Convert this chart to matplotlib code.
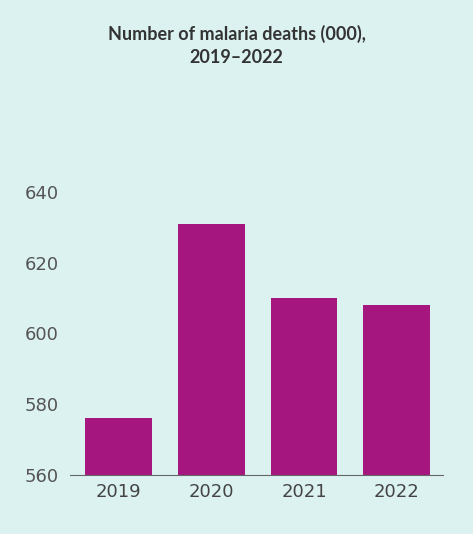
import matplotlib
matplotlib.use("Agg")
import matplotlib.pyplot as plt

years = ["2019", "2020", "2021", "2022"]
deaths = [576, 631, 610, 608]
yticks = [560, 580, 600, 620, 640]

bg = "#dbf2f1"
fig = plt.figure(figsize=(4.73, 5.34), dpi=100, facecolor=bg)
ax = fig.add_axes([0.148, 0.1105, 0.789, 0.530], facecolor=bg)
ax.bar(range(len(years)), deaths, width=0.72, color="#a6167f", zorder=2)
ax.set_xlim(-0.52, 3.5)
ax.set_ylim(560, 640)
ax.set_yticks(yticks)
ax.set_xticks(range(len(years)))
ax.set_xticklabels(years)
for s in ["top", "right", "left"]:
    ax.spines[s].set_visible(False)
ax.spines["bottom"].set_color("#666666")
ax.tick_params(axis="y", length=0, labelsize=13, colors="#555555", pad=8)
ax.tick_params(axis="x", length=0, labelsize=13, colors="#444444", pad=6)
fig.text(0.5, 0.915, "Number of malaria deaths (000),\n2019–2022", ha="center", va="center",
         fontsize=13, fontweight="bold", color="#333333", family="Lato", linespacing=1.4)
fig.savefig("out.png", dpi=100, facecolor=bg)
